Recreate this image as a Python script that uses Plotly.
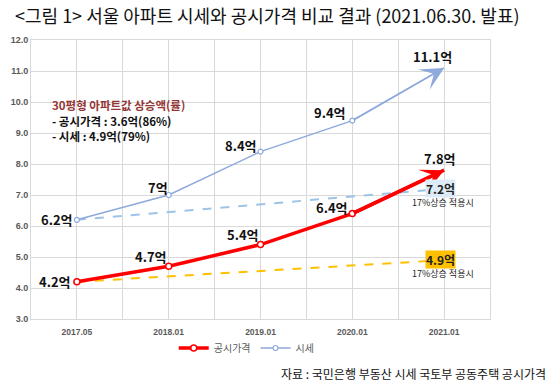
import plotly.graph_objects as go

categories = ["2017.05", "2018.01", "2019.01", "2020.01", "2021.01"]
gongsi = [4.2, 4.7, 5.4, 6.4, 7.8]
sise = [6.2, 7.0, 8.4, 9.4, 11.1]
gongsi_labels = ["4.2억", "4.7억", "5.4억", "6.4억", "7.8억"]
sise_labels = ["6.2억", "7억", "8.4억", "9.4억", "11.1억"]
proj_sise = [6.2, 7.2]
proj_gongsi = [4.2, 4.9]
proj_sise_label = "7.2억"
proj_gongsi_label = "4.9억"
proj_note = "17%상승 적용시"
y_ticks = [3, 4, 5, 6, 7, 8, 9, 10, 11, 12]

xs = list(range(len(categories)))
proj_x = [xs[0], xs[-1]]

RED = "#FF0000"
BLUE = "#8EA9DB"
KR = "Noto Sans CJK KR"
GRID = "#D9D9D9"

fig = go.Figure()

# projected dashed lines
fig.add_trace(go.Scatter(x=proj_x, y=proj_sise, mode="lines",
                         line=dict(color="#9DC3E6", width=2, dash="dash"),
                         showlegend=False, hoverinfo="skip"))
fig.add_trace(go.Scatter(x=proj_x, y=proj_gongsi, mode="lines",
                         line=dict(color="#FFC000", width=2, dash="dash"),
                         showlegend=False, hoverinfo="skip"))

# last segments (lines only; arrowheads via annotations)
fig.add_trace(go.Scatter(x=xs[-2:], y=sise[-2:], mode="lines",
                         line=dict(color=BLUE, width=1.5), showlegend=False))
fig.add_trace(go.Scatter(x=xs[-2:], y=gongsi[-2:], mode="lines",
                         line=dict(color=RED, width=3.5), showlegend=False))

# main traces
fig.add_trace(go.Scatter(x=xs[:-1], y=gongsi[:-1], mode="lines+markers", name="공시가격",
                         line=dict(color=RED, width=3.5),
                         marker=dict(size=6, color="white", line=dict(color=RED, width=1.5))))
fig.add_trace(go.Scatter(x=xs[:-1], y=sise[:-1], mode="lines+markers", name="시세",
                         line=dict(color=BLUE, width=1.5),
                         marker=dict(size=5, color="white", line=dict(color=BLUE, width=1.2))))

ann = []
# arrowheads
ann.append(dict(x=xs[-1], y=gongsi[-1], ax=xs[-2], ay=gongsi[-2], xref="x", yref="y",
                axref="x", ayref="y", text="", showarrow=True, arrowhead=3,
                arrowsize=1.1, arrowwidth=3.5, arrowcolor=RED, standoff=0))
ann.append(dict(x=xs[-1], y=sise[-1], ax=xs[-2], ay=sise[-2], xref="x", yref="y",
                axref="x", ayref="y", text="", showarrow=True, arrowhead=3,
                arrowsize=2.6, arrowwidth=1.5, arrowcolor=BLUE, standoff=0))

lab_font = dict(family=KR, size=13, color="#111111")
g_off = [(-22, 0), (-18, 10), (-18, 10), (-20, 6), (-4, 12)]
s_off = [(-20, 0), (-11, 8), (-20, 6), (-22, 8), (-12, 11)]
for i, (t, (dx, dy)) in enumerate(zip(gongsi_labels, g_off)):
    ann.append(dict(x=xs[i], y=gongsi[i], text="<b>%s</b>" % t, showarrow=False,
                    xshift=dx, yshift=dy, font=lab_font))
for i, (t, (dx, dy)) in enumerate(zip(sise_labels, s_off)):
    ann.append(dict(x=xs[i], y=sise[i], text="<b>%s</b>" % t, showarrow=False,
                    xshift=dx, yshift=dy, font=lab_font))

ann.append(dict(x=proj_x[1], y=proj_sise[1], text="<b>%s</b>" % proj_sise_label, showarrow=False,
                xshift=-4, yshift=0, font=dict(family=KR, size=12, color="#222222"),
                bgcolor="#DDEBF7", borderpad=0))
ann.append(dict(x=proj_x[1], y=proj_sise[1], text=proj_note, showarrow=False,
                xshift=-1, yshift=-14, font=dict(family=KR, size=9, color="#222222")))
ann.append(dict(x=proj_x[1], y=proj_gongsi[1], text="<b>%s</b>" % proj_gongsi_label, showarrow=False,
                xshift=-4, yshift=1, font=dict(family=KR, size=12, color="#222222"),
                bgcolor="#FFC000", borderpad=0))
ann.append(dict(x=proj_x[1], y=proj_gongsi[1], text=proj_note, showarrow=False,
                xshift=-1, yshift=-13, font=dict(family=KR, size=9, color="#222222")))

# text box
box = [("30평형 아파트값 상승액(률)", "#943634", 0.767),
       ("- 공시가격 : 3.6억(86%)", "#111111", 0.711),
       ("- 시세 : 4.9억(79%)", "#111111", 0.655)]
for t, c, yy in box:
    ann.append(dict(xref="paper", yref="paper", x=0.041, y=yy, xanchor="left", yanchor="middle",
                    text="<b>%s</b>" % t, showarrow=False, font=dict(family=KR, size=11.5, color=c)))

# source
ann.append(dict(xref="paper", yref="paper", x=1.126, y=-0.194, xanchor="right", yanchor="middle",
                text="자료 : 국민은행 부동산 시세 국토부 공동주택 공시가격", showarrow=False,
                font=dict(family=KR, size=12, color="#111111")))

fig.update_layout(
    width=555, height=386,
    margin=dict(l=31, r=65, t=40, b=67),
    paper_bgcolor="white", plot_bgcolor="white",
    title=dict(text="<그림 1> 서울 아파트 시세와 공시가격 비교 결과 (2021.06.30. 발표)",
               x=0.027, xanchor="left", y=0.958, yanchor="middle",
               font=dict(family=KR, size=18, color="#111111")),
    annotations=ann,
    showlegend=True,
    legend=dict(orientation="h", x=0.47, xanchor="center", y=-0.104, yanchor="middle",
                font=dict(family=KR, size=10, color="#595959"),
                itemwidth=30, tracegroupgap=0, bgcolor="rgba(0,0,0,0)"),
    xaxis=dict(range=[-0.5, 4.5], tickvals=xs, ticktext=["<b>%s</b>" % c for c in categories],
               showgrid=True, gridcolor=GRID, gridwidth=1,
               minor=dict(tickvals=[x + 0.5 for x in xs], showgrid=True, gridcolor=GRID),
               showline=True, linecolor=GRID, mirror=True, zeroline=False,
               ticks="", ticklabelstandoff=5,
               tickfont=dict(family="Liberation Sans", size=8.5, color="#595959")),
    yaxis=dict(range=[3, 12], tickvals=y_ticks, ticktext=["<b>%.1f</b>" % v for v in y_ticks],
               showgrid=True, gridcolor=GRID, gridwidth=1,
               showline=True, linecolor=GRID, mirror=True, zeroline=False,
               ticks="", tickfont=dict(family="Liberation Sans", size=9, color="#595959")),
)

fig.write_html("out.html", config={"displayModeBar": False},
               post_script="document.body.style.margin='0px';document.body.style.overflow='hidden';")
